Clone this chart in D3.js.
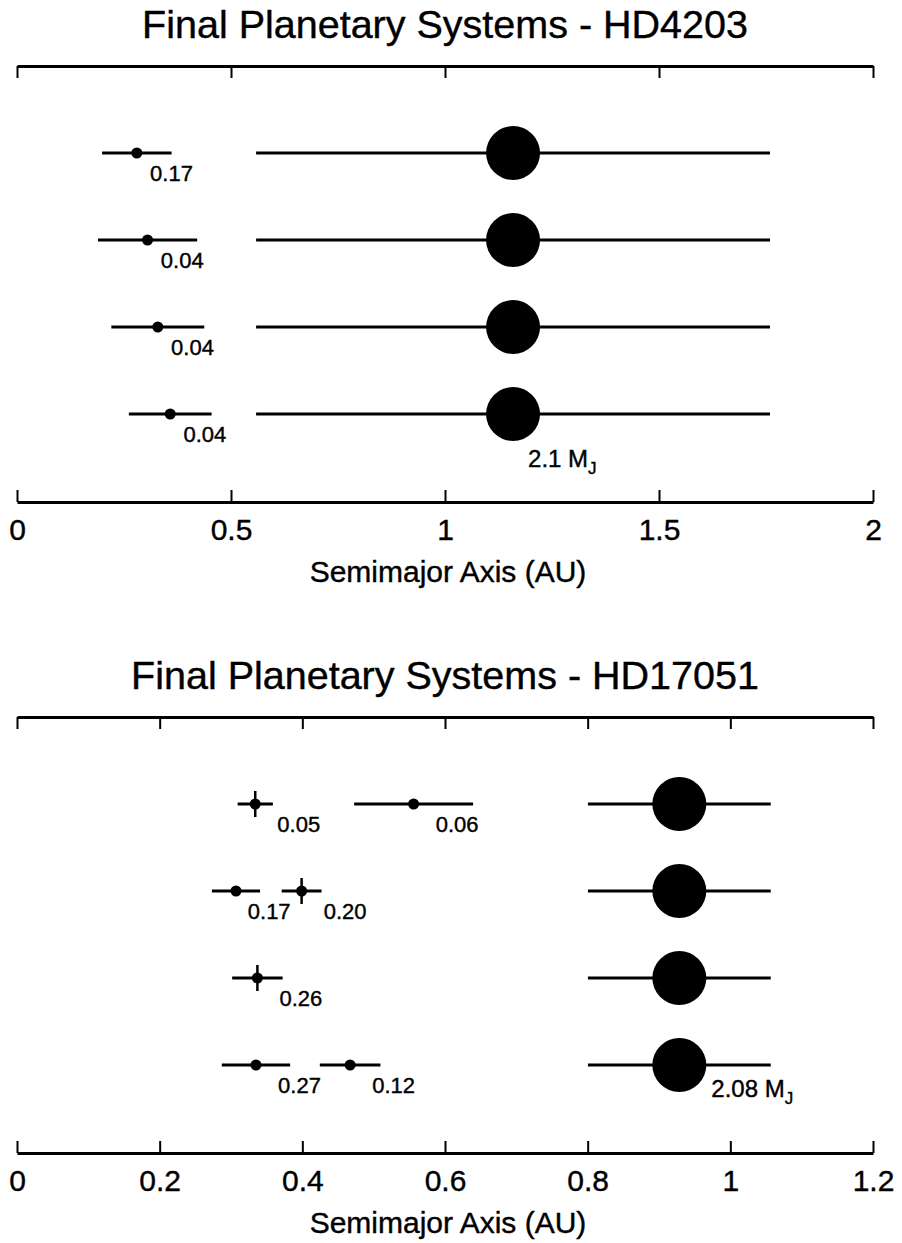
<!DOCTYPE html>
<meta charset="utf-8">
<head>
<script src="https://d3js.org/d3.v7.min.js"></script>
</head>
<style>
  html, body { margin: 0; background: #fff; }
  text { font-family: "Liberation Sans", Arial, Helvetica, sans-serif; fill: #000; stroke: #000; stroke-width: 0.4px; }
  .title { font-size: 39.5px; }
  .tick text { font-size: 30px; }
  .xlabel { font-size: 30px; }
  .mass { font-size: 22px; }
  .giant { font-size: 24px; }
  .axis path.domain { stroke: #000; stroke-width: 3px; }
  .axis .tick line { stroke: #000; stroke-width: 2px; }
  .orbit { stroke: #000; stroke-width: 3px; }
  .bar { stroke: #000; stroke-width: 2.5px; }
</style>
<body>
<div id="chart"></div>
<script>

// ---- HD4203 ----
var top_ticks      = [0, 0.5, 1, 1.5, 2];
var top_tickLabels = ["0", "0.5", "1", "1.5", "2"];
var top_row   = [1, 1, 2, 2, 3, 3, 4, 4];
var top_a     = [0.280, 1.159, 0.305, 1.159, 0.329, 1.159, 0.358, 1.159];
var top_e     = [0.29, 0.518, 0.38, 0.518, 0.33, 0.518, 0.27, 0.518];
var top_mass  = [0.17, 2.1, 0.04, 2.1, 0.04, 2.1, 0.04, 2.1];
var top_label = ["0.17", null, "0.04", null, "0.04", null, "0.04", "2.1"];
var top_cross = [0, 0, 0, 0, 0, 0, 0, 0];

// ---- HD17051 ----
var bot_ticks      = [0, 0.2, 0.4, 0.6, 0.8, 1, 1.2];
var bot_tickLabels = ["0", "0.2", "0.4", "0.6", "0.8", "1", "1.2"];
var bot_row   = [1, 1, 1, 2, 2, 2, 3, 3, 4, 4, 4];
var bot_a     = [0.334, 0.556, 0.9285, 0.307, 0.399, 0.9285, 0.337, 0.9285, 0.335, 0.467, 0.9285];
var bot_e     = [0.074, 0.15, 0.138, 0.11, 0.07, 0.138, 0.105, 0.138, 0.143, 0.091, 0.138];
var bot_mass  = [0.05, 0.06, 2.08, 0.17, 0.20, 2.08, 0.26, 2.08, 0.27, 0.12, 2.08];
var bot_label = ["0.05", "0.06", null, "0.17", "0.20", null, "0.26", null, "0.27", "0.12", "2.08"];
var bot_cross = [1, 0, 0, 0, 1, 0, 1, 0, 0, 0, 0];

var width = 902, height = 1243;

var svg = d3.select("#chart").append("svg")
    .attr("width", width)
    .attr("height", height);

var panels = [
  { title: "Final Planetary Systems - HD4203", domain: [0, 2], ticks: top_ticks, tickLabels: top_tickLabels,
    row: top_row, a: top_a, e: top_e, mass: top_mass, label: top_label, cross: top_cross,
    off: 0, giantDx: 15, giantDy: 53 },
  { title: "Final Planetary Systems - HD17051", domain: [0, 1.2], ticks: bot_ticks, tickLabels: bot_tickLabels,
    row: bot_row, a: bot_a, e: bot_e, mass: bot_mass, label: bot_label, cross: bot_cross,
    off: 651, giantDx: 32, giantDy: 32 }
];

panels.forEach(function(p) {
  var g = svg.append("g").attr("transform", "translate(0," + p.off + ")");
  var axisTopY = 66, axisBotY = 502;

  var x = d3.scaleLinear().domain(p.domain).range([17, 873]);
  var y = d3.scalePoint().domain([1, 2, 3, 4]).range([153, 414]);

  g.append("text").attr("class", "title")
    .attr("x", 445).attr("y", 38)
    .attr("text-anchor", "middle")
    .text(p.title);

  // top axis: ticks pointing down, no labels
  g.append("g").attr("class", "axis")
    .attr("transform", "translate(0," + axisTopY + ")")
    .call(d3.axisBottom(x).tickValues(p.ticks).tickSizeInner(12).tickSizeOuter(0).tickFormat(""));

  // bottom axis: ticks pointing up, labels below
  var ax = g.append("g").attr("class", "axis")
    .attr("transform", "translate(0," + axisBotY + ")")
    .call(d3.axisBottom(x).tickValues(p.ticks).tickSizeInner(-12).tickSizeOuter(0).tickPadding(17)
      .tickFormat(function(d, i) { return p.tickLabels[i]; }));
  ax.attr("font-size", null).attr("font-family", null);
  ax.selectAll(".tick text").attr("fill", null);

  g.append("text").attr("class", "xlabel")
    .attr("x", 448).attr("y", 582)
    .attr("text-anchor", "middle")
    .text("Semimajor Axis (AU)");

  var planets = p.a.map(function(a, i) {
    return { row: p.row[i], a: a, e: p.e[i], mass: p.mass[i], label: p.label[i], cross: p.cross[i] };
  });

  g.selectAll(".orbit").data(planets).enter().append("line")
    .attr("class", "orbit")
    .attr("x1", function(d) { return x(d.a * (1 - d.e)); })
    .attr("x2", function(d) { return x(d.a * (1 + d.e)); })
    .attr("y1", function(d) { return y(d.row); })
    .attr("y2", function(d) { return y(d.row); });

  g.selectAll(".bar").data(planets.filter(function(d) { return d.cross; })).enter().append("line")
    .attr("class", "bar")
    .attr("x1", function(d) { return x(d.a); })
    .attr("x2", function(d) { return x(d.a); })
    .attr("y1", function(d) { return y(d.row) - 13; })
    .attr("y2", function(d) { return y(d.row) + 13; });

  g.selectAll(".dot").data(planets).enter().append("circle")
    .attr("class", "dot")
    .attr("cx", function(d) { return x(d.a); })
    .attr("cy", function(d) { return y(d.row); })
    .attr("r", function(d) { return d.mass > 1 ? 27 : 5.5; })
    .attr("fill", "#000");

  planets.forEach(function(d, i) {
    if (!d.label) return;
    if (d.mass > 1) {
      var t = g.append("text").attr("class", "giant")
        .attr("x", x(d.a) + p.giantDx).attr("y", y(d.row) + p.giantDy);
      t.append("tspan").text(d.label + " M");
      t.append("tspan").attr("dy", 7).attr("font-size", "17px").text("J");
    } else {
      var tx = x(d.a + 0.031);
      var t = g.append("text").attr("class", "mass")
        .attr("x", tx).attr("y", y(d.row) + 28).text(d.label);
      // nudge left when the label runs into the next small planet on the row
      var next = planets.find(function(q) { return q.row === d.row && q.mass < 1 && q.a > d.a; });
      if (next) {
        var w = t.node().getComputedTextLength();
        var lim = x(next.a) - 11;
        if (tx + w > lim) t.attr("x", lim - w);
      }
    }
  });
});

</script>
</body>
